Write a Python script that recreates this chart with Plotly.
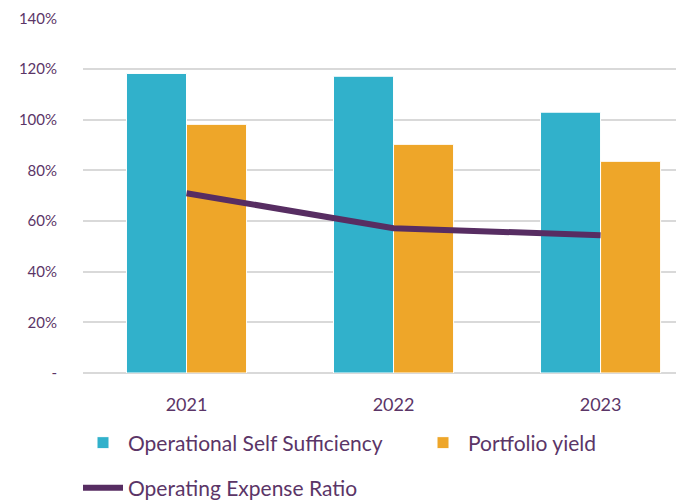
import plotly.graph_objs as go

years = ['2021', '2022', '2023']
oss = [118.3, 117.2, 103.0]
portfolio_yield = [98.2, 90.3, 83.6]
opex_ratio = [71.0, 57.2, 54.4]

tick_vals = [0, 20, 40, 60, 80, 100, 120, 140]
tick_text = ['-', '20%', '40%', '60%', '80%', '100%', '120%', '140%']

purple = '#5b3567'

# the html page keeps an 8px body margin, so the figure is 16px smaller
W, H = 676, 494

fig = go.Figure()
fig.add_trace(go.Bar(x=years, y=oss, name='Operational Self Sufficiency',
                     marker=dict(color='#31b1cb', line=dict(color='white', width=1))))
fig.add_trace(go.Bar(x=years, y=portfolio_yield, name='Portfolio yield', legend='legend3',
                     marker=dict(color='#eea629', line=dict(color='white', width=1))))
fig.add_trace(go.Scatter(x=years, y=opex_ratio, name='Operating Expense Ratio', mode='lines',
                         line=dict(color='#572d62', width=6), legend='legend2'))

legend_common = dict(orientation='h', xanchor='left', yanchor='middle',
                     xref='container', yref='container',
                     font=dict(size=21), itemwidth=40)

fig.update_layout(
    width=W, height=H,
    margin=dict(l=75, r=0, t=10, b=129),
    paper_bgcolor='white', plot_bgcolor='white',
    font=dict(family='Lato', color=purple),
    barmode='group', bargap=0.42, bargroupgap=0,
    showlegend=True,
    legend=dict(x=(78 - 8) / W, y=1 - (443 - 8) / H, **legend_common),
    legend3=dict(x=(418 - 8) / W, y=1 - (443 - 8) / H, **legend_common),
    legend2=dict(x=(78 - 8) / W, y=1 - (488 - 8) / H, **legend_common),
)
fig.update_xaxes(range=[-0.5, 2.403], showgrid=False, showline=False, ticks='',
                 tickfont=dict(size=18), ticklabelstandoff=19, automargin=False)
fig.update_yaxes(range=[0, 140.2], tickvals=tick_vals, ticktext=tick_text,
                 showgrid=True, gridcolor='#d9d9d9', gridwidth=2, zeroline=True,
                 zerolinecolor='#d9d9d9', zerolinewidth=2, automargin=False,
                 tickfont=dict(size=15), ticks='', ticklabelstandoff=25)

fig.write_html("out.html")
